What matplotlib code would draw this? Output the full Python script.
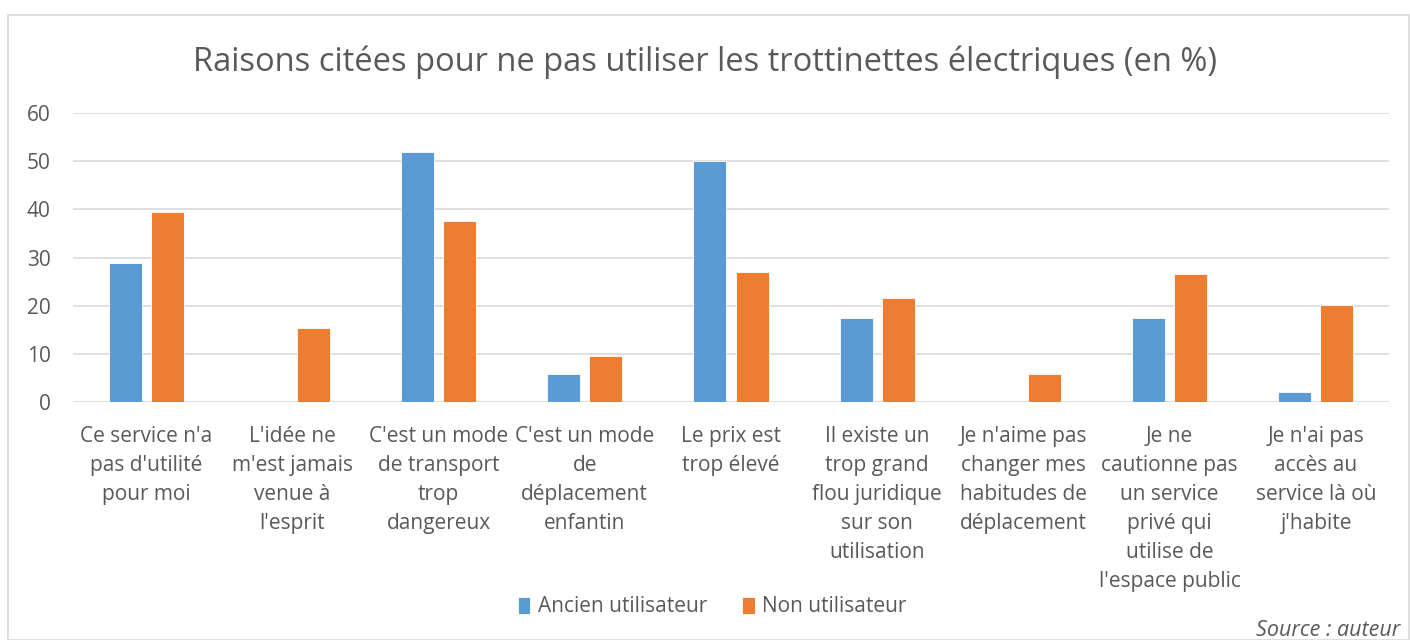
import numpy as np
import matplotlib.pyplot as plt
from matplotlib.patches import Rectangle

plt.rcParams['font.family'] = ['Open Sans', 'DejaVu Sans']

# Data
categories = [
    "Ce service n'a\npas d'utilité\npour moi",
    "L'idée ne\nm'est jamais\nvenue à\nl'esprit",
    "C'est un mode\nde transport\ntrop\ndangereux",
    "C'est un mode\nde\ndéplacement\nenfantin",
    "Le prix est\ntrop élevé",
    "Il existe un\ntrop grand\nflou juridique\nsur son\nutilisation",
    "Je n'aime pas\nchanger mes\nhabitudes de\ndéplacement",
    "Je ne\ncautionne pas\nun service\nprivé qui\nutilise de\nl'espace public",
    "Je n'ai pas\naccès au\nservice là où\nj'habite",
]
ancien = [28.9, 0, 51.9, 5.8, 50.0, 17.4, 0, 17.4, 2.1]
non_util = [39.4, 15.4, 37.6, 9.5, 27.0, 21.6, 5.8, 26.6, 20.1]
series_names = ["Ancien utilisateur", "Non utilisateur"]
yticks = [0, 10, 20, 30, 40, 50, 60]

blue = "#5B9BD5"
orange = "#ED7D31"
txt = "#595959"

fig = plt.figure(figsize=(14.1, 6.4), dpi=100)
# chart border
fig.patches.append(Rectangle((8 / 1410, 0), 1 - 8 / 1410 - 0.001, 1 - 15 / 640,
                             transform=fig.transFigure, fill=False,
                             edgecolor="#D9D9D9", linewidth=1.2))

ax = fig.add_axes([73 / 1410, 1 - 402 / 640, (1389 - 73) / 1410, (402 - 113) / 640])
x = np.arange(len(categories))
w = 0.226
off = 0.144
ax.bar(x - off, ancien, w, color=blue, edgecolor="white", linewidth=0.6,
       label=series_names[0], zorder=3)
ax.bar(x + off, non_util, w, color=orange, edgecolor="white", linewidth=0.6,
       label=series_names[1], zorder=3)

ax.set_xlim(-0.5, len(categories) - 0.5)
ax.set_ylim(0, 60)
ax.set_yticks(yticks)
ax.yaxis.grid(True, color="#D9D9D9", linewidth=1.2, zorder=0)
for s in ax.spines.values():
    s.set_visible(False)
ax.tick_params(axis="both", length=0, colors=txt, labelsize=15)
ax.tick_params(axis="y", pad=16)
ax.set_xticks(x)
ax.set_xticklabels(categories, linespacing=1.5, color=txt)
ax.tick_params(axis="x", pad=17)

fig.text(0.5, 1 - 62 / 640, "Raisons citées pour ne pas utiliser les trottinettes électriques (en %)",
         ha="center", va="center", fontsize=23.5, color=txt)

fig.legend(loc="center", bbox_to_anchor=(0.505, 1 - 607 / 640), ncol=2, frameon=False,
           fontsize=15, labelcolor=txt, handlelength=0.6, handleheight=0.9,
           handletextpad=0.35, columnspacing=1.7)

fig.text(1400 / 1410, 1 - 631 / 640, "Source : auteur", ha="right", va="center",
         fontsize=15.5, style="italic", color=txt)

fig.savefig("out.png", dpi=100)
